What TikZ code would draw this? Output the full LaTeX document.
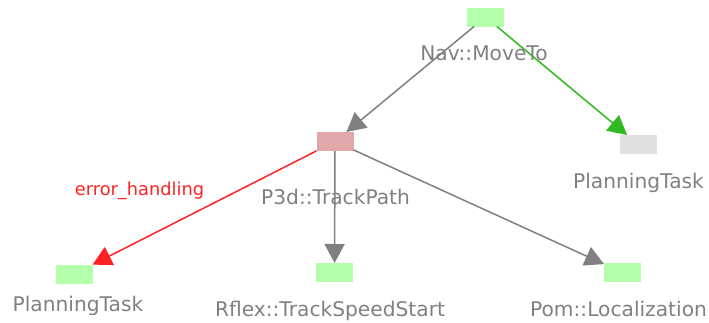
\documentclass[tikz,border=0pt]{standalone}
\usepackage{fontspec}
\setmainfont{DejaVu Sans}
\usetikzlibrary{arrows.meta}
\definecolor{txtgray}{RGB}{128,128,128}
\definecolor{boxgreen}{RGB}{179,255,170}
\definecolor{boxred}{RGB}{224,168,168}
\definecolor{boxgrey}{RGB}{224,224,224}
\definecolor{linered}{RGB}{255,34,34}
\definecolor{linegreen}{RGB}{48,185,32}
\tikzset{
  taskbox/.style={minimum width=37pt, minimum height=19pt, inner sep=0pt, outer sep=0pt},
  lbl/.style={anchor=base, inner sep=0pt, text=txtgray, font=\fontsize{20.2pt}{23pt}\selectfont},
  conn/.style={line width=1.5pt, -{Triangle[length=19pt,width=20pt]}},
}
\begin{document}
\begin{tikzpicture}[x=1pt,y=-1pt]
\useasboundingbox (0,0) rectangle (709,322);
\node[taskbox, fill=boxgreen] (nav) at (485.5,17) {};
\node[taskbox, fill=boxred] (p3d) at (335,141.5) {};
\node[taskbox, fill=boxgrey] (pt1) at (638.5,144.5) {};
\node[taskbox, fill=boxgreen] (pt2) at (74,274) {};
\node[taskbox, fill=boxgreen] (rflex) at (334.5,272.5) {};
\node[taskbox, fill=boxgreen] (pom) at (622.5,272.5) {};

\draw[conn, draw=txtgray, fill=txtgray] (nav) -- (p3d);
\draw[conn, draw=linegreen, fill=linegreen] (nav) -- (pt1);
\draw[conn, draw=linered, fill=linered] (p3d) -- (pt2);
\draw[conn, draw=txtgray, fill=txtgray] (p3d) -- (rflex);
\draw[conn, draw=txtgray, fill=txtgray] (p3d) -- (pom);

\node[lbl] (navl) at (484,60) {Nav::MoveTo};
\node[lbl] (pt1l) at (638.5,188) {PlanningTask};
\node[lbl] (p3dl) at (335.5,204) {P3d::TrackPath};
\node[lbl] (pt2l) at (78,311) {PlanningTask};
\node[lbl] (rflexl) at (330,316.7) {Rflex::TrackSpeedStart};
\node[lbl] (poml) at (618.5,316) {Pom::Localization};
\node[anchor=base, inner sep=0pt, text=linered, font=\fontsize{17.8pt}{20pt}\selectfont] (err) at (139.5,195) {error\_handling};
\end{tikzpicture}
\end{document}
